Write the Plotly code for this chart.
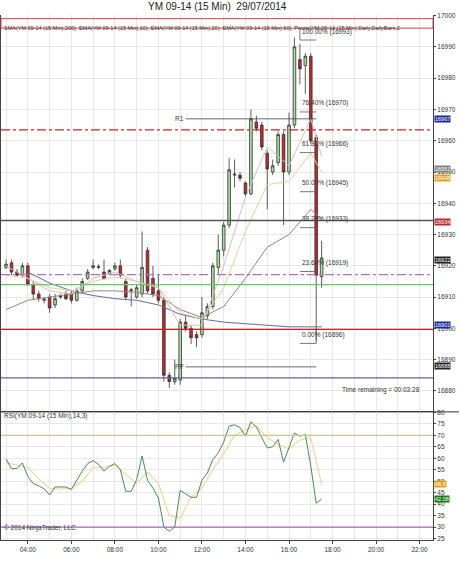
import plotly.graph_objects as go

# ---- data ----
BASE = "2014-07-29 "
times = [f"{h:02d}:{m:02d}" for h in range(3, 18) for m in (0, 15, 30, 45)][:59]
opens = [16919.5, 16921, 16918, 16917, 16920, 16914, 16911, 16909, 16910, 16907.5,
         16910, 16911, 16911, 16909, 16912, 16916, 16919.5, 16919.5, 16918, 16917.5,
         16919, 16920, 16915, 16912, 16910, 16911, 16925, 16916, 16912, 16909,
         16885, 16883, 16883.5, 16902, 16900, 16898, 16898, 16904, 16907, 16919.5,
         16925, 16933, 16949, 16949, 16946.5, 16943, 16966, 16965, 16956, 16950,
         16953, 16962, 16950, 16965, 16986, 16984, 16987, 16961, 16916.5]
closes = [16920.5, 16918, 16917, 16920, 16914, 16911, 16909.5, 16909.3, 16906.5, 16909.5,
          16910.3, 16909.5, 16909, 16912, 16915, 16918, 16920, 16919.7, 16916, 16918.5,
          16920, 16917, 16910, 16912.3, 16913, 16919.5, 16912, 16911, 16909, 16885,
          16883, 16884, 16902, 16900, 16897, 16897, 16905, 16907, 16920, 16925,
          16933, 16950.7, 16949.3, 16948, 16943, 16967, 16964, 16958, 16951, 16952,
          16962, 16950, 16965, 16990, 16983, 16987, 16960, 16917, 16922.5]
highs = [16922, 16922, 16919, 16921, 16921, 16915, 16912, 16910, 16911, 16911,
         16911, 16912, 16912, 16913, 16916, 16919, 16922, 16920.5, 16922, 16919,
         16921, 16922, 16916, 16913, 16914, 16931, 16926, 16920, 16917, 16910,
         16886, 16890, 16903, 16904, 16901, 16899, 16910, 16908, 16921, 16930,
         16934, 16954.5, 16954, 16950, 16947, 16970, 16968, 16966, 16957, 16954,
         16963, 16963, 16969, 16993, 16991, 16988, 16988, 16962, 16928]
lows = [16919, 16917, 16916.5, 16916.5, 16913.5, 16909, 16908.5, 16908, 16905, 16906.5,
        16909.5, 16909, 16908, 16908.5, 16911.5, 16915.5, 16919, 16919, 16915.5, 16917,
        16918.5, 16916, 16909, 16907, 16909.5, 16910, 16911, 16910, 16908, 16883,
        16881, 16882, 16882, 16899, 16895, 16894, 16897, 16903, 16906, 16917,
        16923, 16932, 16945, 16947, 16942, 16942.5, 16963, 16957, 16938, 16949,
        16952, 16933, 16949, 16964, 16978, 16975, 16959, 16896, 16913]

ma_times = ["03:00", "04:00", "05:00", "06:00", "07:00", "08:00", "09:00", "10:00",
            "11:00", "12:00", "13:00", "14:00", "15:00", "16:00", "17:00", "17:30"]
sma200 = [None, 16918, 16914.5, 16912, 16910.5, 16909.5, 16909, 16907.5,
          16904.5, 16903, 16902, 16901.5, 16901, 16900.5, 16900.5, 16900.5]
ema10 = [16920, 16916, 16912, 16911, 16916, 16918, 16915, 16913,
         16901, 16901, 16920, 16942, 16958, 16952, 16967, 16955]
ema20 = [16917, 16916, 16913, 16912, 16915, 16916.5, 16915, 16913,
         16905, 16903, 16913, 16931, 16946, 16947, 16956, 16950]
ema60 = [16906, 16909, 16910, 16911, 16912, 16912, 16911.5, 16910.5,
         16906, 16903.5, 16907, 16916, 16926, 16930, 16938, 16935]

rsi = [59.7, 55.5, 55.5, 58, 52, 49, 48, 46.7, 44, 47.5, 47.5, 47.5, 46.4, 50.7, 54.4,
       57.7, 59, 57.3, 54.4, 56.5, 57.7, 55, 45.6, 45.6, 50.7, 61, 50.4, 47, 42.7, 30,
       28.2, 30, 46, 44.5, 43, 43, 50.4, 53.6, 59.4, 62.4, 67, 74, 74.6, 73.4, 69.6,
       75.9, 73.7, 68.9, 64.5, 65, 68.2, 58.3, 65, 71, 69.6, 70.3, 56.8, 40.4, 42.3]
rsi_avg_times = ["03:00", "03:30", "04:00", "04:30", "05:00", "05:30", "06:00", "06:30",
                 "07:00", "07:30", "08:00", "08:30", "09:00", "09:30", "10:00", "10:30",
                 "11:00", "11:30", "12:00", "12:30", "13:00", "13:30", "14:00", "14:30",
                 "15:00", "15:30", "16:00", "16:30", "17:00", "17:30"]
rsi_avg = [58, 57, 56, 51, 47, 46.5, 47, 50, 56, 56, 57, 53, 49, 54, 49, 35,
           34, 43, 47, 55, 62, 70, 72.5, 74, 69, 66, 64, 68, 69, 48.6]

levels = [  # price, colour, dash
    (16963.5, "#c0282c", "dashdot"),
    (16934.5, "#555555", "solid"),
    (16917.2, "#b070c8", "dashdot"),
    (16914, "#6cc46c", "solid"),
    (16899.7, "#d02020", "solid"),
    (16884.2, "#6060a0", "solid"),
]
fib_pct = ["100.00%", "76.40%", "61.80%", "50.00%", "38.20%", "23.60%", "0.00%"]
fib_px = [16993, 16970, 16966, 16945, 16933, 16919, 16896]
fib_y = [16993, 16970, 16957, 16944.5, 16933, 16919, 16896]
axis_tags = [(16967, "#1a2a9a"), (16951, "#808080"), (16948, "#e0a020"),
             (16934, "#c0282c"), (16922, "#222222"), (16901, "#1a2a9a"), (16888, "#222222")]
rsi_tags = [(48.6, "#e0a020"), (42.08, "#1a7a1a")]

X = [BASE + t for t in times]
fig = go.Figure()
fig.add_trace(go.Candlestick(
    x=X, open=opens, high=highs, low=lows, close=closes,
    increasing=dict(fillcolor="#a8dca0", line=dict(color="#333333", width=0.8)),
    decreasing=dict(fillcolor="#c0282c", line=dict(color="#333333", width=0.8)),
    whiskerwidth=0, showlegend=False, yaxis="y2"))
mx = [BASE + t for t in ma_times]
for vals, col in [(sma200, "#6a6aa0"), (ema60, "#a08080"), (ema20, "#e8d0a0"), (ema10, "#c8c8c0")]:
    fig.add_trace(go.Scatter(x=mx, y=vals, mode="lines", line=dict(color=col, width=1),
                             showlegend=False, yaxis="y2"))

fig.add_trace(go.Scatter(x=[BASE + t for t in rsi_avg_times], y=rsi_avg, mode="lines",
                         line=dict(color="#f0d8a0", width=1.2), showlegend=False, yaxis="y"))
fig.add_trace(go.Scatter(x=X, y=rsi, mode="lines", line=dict(color="#4a8a5a", width=1),
                         showlegend=False, yaxis="y"))

shapes = []
for p, c, d in levels:
    shapes.append(dict(type="line", xref="paper", yref="y2", x0=0, x1=1, y0=p, y1=p,
                       line=dict(color=c, width=1.3, dash=d)))
for p in [16967, 16887.7]:
    shapes.append(dict(type="line", xref="x", yref="y2", x0=BASE + "11:15", x1=BASE + "17:15",
                       y0=p, y1=p, line=dict(color="#404060", width=0.8)))
for fy in fib_y:
    shapes.append(dict(type="line", xref="x", yref="y2", x0=BASE + "16:30", x1=BASE + "17:15",
                       y0=fy - 0.8, y1=fy - 0.8, line=dict(color="#555555", width=0.8)))
shapes.append(dict(type="line", xref="x", yref="y2", x0=BASE + "16:30", x1=BASE + "16:30",
                   y0=16992.2, y1=16996, line=dict(color="#555555", width=0.8)))
shapes.append(dict(type="line", xref="x", yref="y2", x0=BASE + "17:15", x1=BASE + "17:15",
                   y0=16895.2, y1=16900, line=dict(color="#555555", width=0.8)))
for v, c in [(70, "#c8c890"), (30, "#a070b0")]:
    shapes.append(dict(type="line", xref="paper", yref="y", x0=0, x1=1, y0=v, y1=v,
                       line=dict(color=c, width=1.2)))
shapes.append(dict(type="line", xref="paper", yref="paper", x0=0, x1=1.06, y0=0.244, y1=0.244,
                   line=dict(color="#333333", width=1)))
shapes.append(dict(type="rect", xref="paper", yref="paper", x0=0, x1=1, y0=0.975, y1=0.993,
                   line=dict(color="#d04050", width=1), fillcolor="rgba(0,0,0,0)"))

F = "Liberation Sans"
ann = [dict(text="YM 09-14 (15 Min)  29/07/2014", xref="paper", yref="paper", x=0.5, y=1.0,
            yanchor="bottom", showarrow=False, font=dict(size=10, color="#222"), yshift=1),
       dict(text="SMA(YM 09-14 (15 Min),200), EMA(YM 09-14 (15 Min),10), EMA(YM 09-14 (15 Min),20), "
                 "EMA(YM 09-14 (15 Min),60), Pivots(YM 09-14 (15 Min),Daily,DailyBars,2",
            xref="paper", yref="paper", x=0.003, y=0.984, xanchor="left", showarrow=False,
            font=dict(size=5.5, color="#333")),
       dict(text="Time remaining = 00:03:28", xref="paper", yref="paper", x=0.975, y=0.275,
            xanchor="right", showarrow=False, font=dict(size=6.5, color="#333")),
       dict(text="RSI(YM 09-14 (15 Min),14,3)", xref="paper", yref="paper", x=0.003, y=0.225,
            xanchor="left", showarrow=False, font=dict(size=6.5, color="#333")),
       dict(text="© 2014 NinjaTrader, LLC", xref="paper", yref="paper", x=0.003, y=0.012,
            xanchor="left", showarrow=False, font=dict(size=6.5, color="#333")),
       dict(text="R1", xref="x", yref="y2", x=BASE + "11:15", y=16967, xanchor="right",
            showarrow=False, font=dict(size=6.5, color="#333")),
       dict(text="PP", xref="x", yref="y2", x=BASE + "11:15", y=16887.7, xanchor="right",
            showarrow=False, font=dict(size=6.5, color="#333"))]
for pct, px_, fy in zip(fib_pct, fib_px, fib_y):
    ann.append(dict(text=f"{pct} ({px_})", xref="x", yref="y2", x=BASE + "16:30", y=fy,
                    xanchor="left", yanchor="bottom", showarrow=False,
                    font=dict(size=6.5, color="#333")))
for p, c in axis_tags:
    ann.append(dict(text=str(p), xref="paper", yref="y2", x=1.003, y=p, xanchor="left",
                    showarrow=False, bgcolor=c, font=dict(size=5.5, color="white"),
                    borderpad=0))
for v, c in rsi_tags:
    ann.append(dict(text=f"{v:.2f}" if v < 45 else f"{v:.1f}", xref="paper", yref="y", x=1.003,
                    y=v, xanchor="left", showarrow=False, bgcolor=c,
                    font=dict(size=5.5, color="white"), borderpad=0))

grid = "#e8e8e8"
fig.update_layout(
    width=460, height=564, margin=dict(l=1, r=27, t=15, b=24, autoexpand=False),
    paper_bgcolor="white", plot_bgcolor="white", font=dict(family=F, size=6.5, color="#333"),
    shapes=shapes, annotations=ann, hovermode=False,
    xaxis=dict(range=[BASE + "02:46", BASE + "22:37"], tickformat="%H:%M",
               dtick=7200000, tick0=BASE + "04:00", showgrid=True, gridcolor=grid,
               minor=dict(dtick=3600000, showgrid=True, gridcolor=grid),
               rangeslider=dict(visible=False), ticks="outside", ticklen=3,
               linecolor="#444", mirror=True, showline=True, automargin=False),
    yaxis=dict(domain=[0, 0.244], range=[24.4, 80.2], side="right", dtick=5,
               gridcolor=grid, ticks="outside", ticklen=2, showline=True, linecolor="#444",
               mirror=True, zeroline=False, automargin=False),
    yaxis2=dict(domain=[0.244, 1], range=[16873.3, 17000.2], side="right", dtick=10,
                tickformat="d", gridcolor=grid, ticks="outside", ticklen=2, showline=True,
                linecolor="#444", mirror=True, zeroline=False, automargin=False),
)
fig.write_html("out.html", config={"displayModeBar": False},
               post_script="document.body.style.margin='0';")
